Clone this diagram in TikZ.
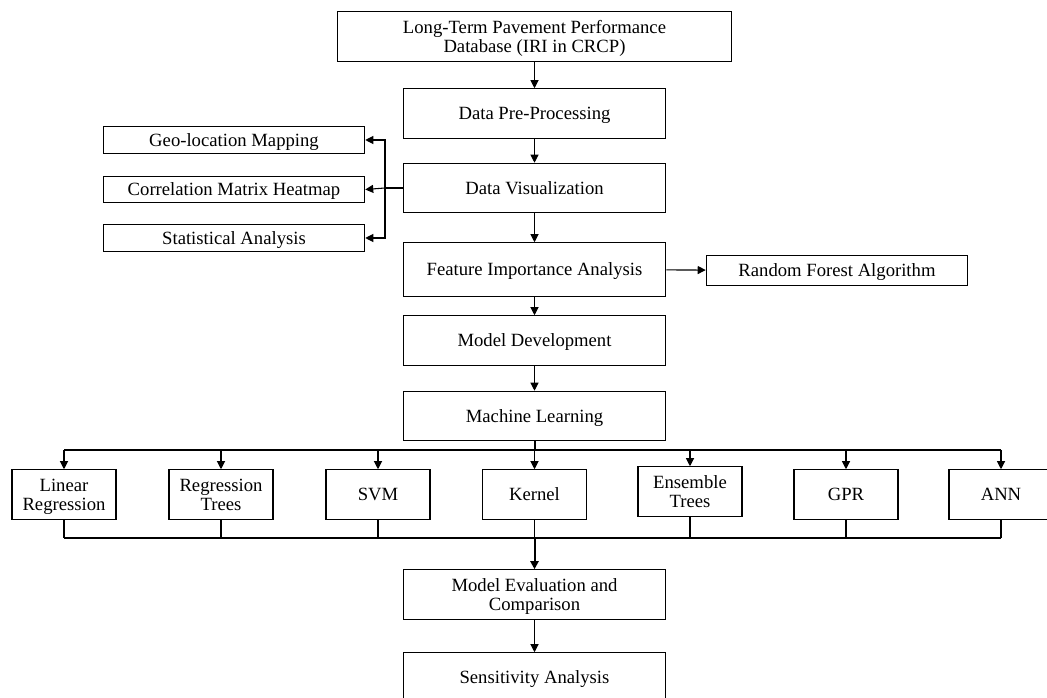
\documentclass[tikz,border=0pt]{standalone}
\usepackage{fontspec}
\setmainfont{Liberation Serif}
\usetikzlibrary{arrows.meta}

\tikzset{
	box/.style={draw, line width=0.9pt, align=center, inner sep=1pt, text depth=0pt, font=\fontsize{14}{14.5}\selectfont},
	stage/.style={box, minimum width=197pt, minimum height=37pt},
	side/.style={box, minimum width=196pt, minimum height=20pt},
	algo/.style={box, minimum width=78pt, minimum height=37pt},
	arrow/.style={-{Triangle[length=6pt,width=6pt]}, line width=0.8pt},
	link/.style={line width=0.8pt}
}

\begin{document}
\begin{tikzpicture}[x=0.75pt, y=-0.75pt]
\useasboundingbox (0,0) rectangle (1047,698);

\node[stage, minimum width=295pt] (db) at (534.5,36.5) {Long-Term Pavement Performance\\Database (IRI in CRCP)};
\node[stage] (prep) at (534.5,113.5) {Data Pre-Processing};
\node[stage] (vis) at (534.5,188) {Data Visualization};
\node[stage, minimum height=40pt] (feat) at (534.5,269.5) {Feature Importance Analysis};
\node[side, minimum height=23pt] (rf) at (837,270.5) {Random Forest Algorithm};
\node[stage] (mdev) at (534.5,340.5) {Model Development};
\node[stage] (ml) at (534.5,416) {Machine Learning};
\node[stage] (eval) at (534.5,594.5) {Model Evaluation and\\Comparison};
\node[stage] (sens) at (534.5,677.5) {Sensitivity Analysis};

\node[side] (geo) at (234,140) {Geo-location Mapping};
\node[side] (corr) at (234,189.5) {Correlation Matrix Heatmap};
\node[side] (stat) at (234,238) {Statistical Analysis};

\node[algo] (lr) at (64,494.5) {Linear\\Regression};
\node[algo] (rt) at (221,494.5) {Regression\\Trees};
\node[algo] (svm) at (378,494.5) {SVM};
\node[algo] (kern) at (534.5,494.5) {Kernel};
\node[algo] (ens) at (690,491.5) {Ensemble\\Trees};
\node[algo] (gpr) at (846,494.5) {GPR};
\node[algo] (ann) at (1001,494.5) {ANN};

\coordinate (spine) at (385,188);
\coordinate (split) at (534.5,450);
\coordinate (merge) at (534.5,538);

\draw[arrow] (db) -- (prep);
\draw[arrow] (prep) -- (vis);
\draw[arrow] (vis) -- (feat);
\draw[arrow] (feat) -- (rf);
\draw[arrow] (feat) -- (mdev);
\draw[arrow] (mdev) -- (ml);
\draw[arrow] (eval) -- (sens);

\draw[line width=1.5pt] (vis.west) -- (spine);
\draw[arrow] (spine) |- (geo.east);
\draw[arrow] (spine) -- (corr.east);
\draw[arrow] (spine) |- (stat.east);

\draw[line width=1.5pt] (ml.south) -- (split);
\draw[link] (split -| lr) -- (split -| ann);
\foreach \a in {lr,rt,svm,kern,ens,gpr,ann}
	\draw[arrow] (split -| \a) -- (\a.north);
\foreach \a in {lr,rt,svm,kern,ens,gpr,ann}
	\draw[link] (\a.south) -- (merge -| \a);
\draw[link] (merge -| lr) -- (merge -| ann);
\draw[arrow, line width=1.5pt] (merge) -- (eval.north);

\end{tikzpicture}
\end{document}
